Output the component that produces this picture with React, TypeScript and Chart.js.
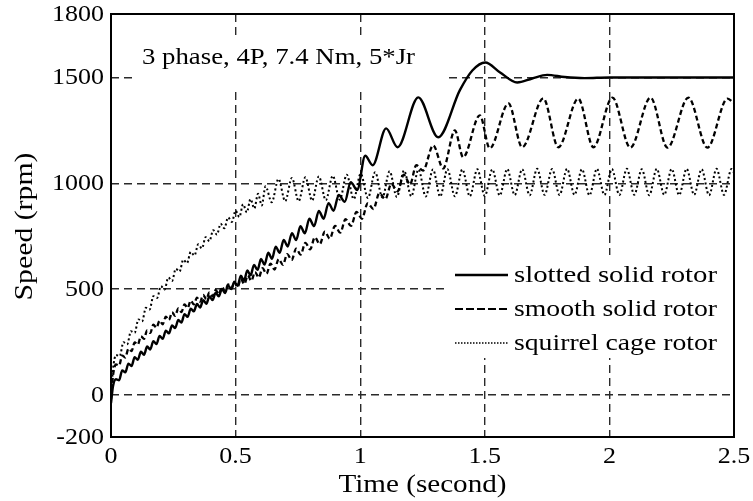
import React, { useEffect, useRef } from "react";
import { Chart, registerables } from "chart.js";
Chart.register(...registerables);

const seriesLabels = ["slotted solid rotor", "smooth solid rotor", "squirrel cage rotor"];
const xTicks = [0, 0.5, 1, 1.5, 2, 2.5];
const xTickLabels = ["0", "0.5", "1", "1.5", "2", "2.5"];
const yTicks = [-200, 0, 500, 1000, 1500, 1800];
const yTickLabels = ["-200", "0", "500", "1000", "1500", "1800"];
const annotationText = "3 phase, 4P, 7.4 Nm, 5*Jr";
const xTitle = "Time (second)";
const yTitle = "Speed (rpm)";

const slottedTime = [
  0, 0.008, 0.02, 0.0325, 0.045, 0.0575, 0.07, 0.0825, 0.095, 0.1075, 0.12, 0.1325, 0.145, 0.1575,
  0.17, 0.1825, 0.195, 0.2075, 0.22, 0.2325, 0.245, 0.2575, 0.27, 0.2825, 0.295, 0.3075, 0.32,
  0.3325, 0.345, 0.3575, 0.37, 0.3825, 0.395, 0.4075, 0.42, 0.4325, 0.445, 0.4575, 0.47, 0.4825,
  0.495, 0.508, 0.521, 0.534, 0.547, 0.56, 0.574, 0.588, 0.602, 0.616, 0.631, 0.646, 0.661, 0.677,
  0.693, 0.709, 0.726, 0.743, 0.76, 0.778, 0.796, 0.815, 0.834, 0.853, 0.873, 0.893, 0.914, 0.938,
  0.962, 0.988, 1.02, 1.05, 1.104, 1.15, 1.233, 1.313, 1.4, 1.45, 1.502, 1.56, 1.63, 1.69, 1.75,
  1.82, 1.9, 2.0, 2.1, 2.2, 2.3, 2.4, 2.5,
];
const slottedSpeed = [
  -40, 40, 73, 68, 115, 106, 147, 136, 177, 165, 203, 189, 228, 214, 253, 239, 278, 264, 303, 290,
  328, 315, 353, 341, 381, 368, 407, 394, 429, 412, 447, 430, 465, 447, 482, 465, 500, 481, 517,
  499, 534, 515, 563, 539, 588, 564, 614, 590, 642, 615, 671, 643, 700, 671, 732, 701, 764, 731,
  797, 763, 832, 797, 869, 832, 906, 870, 945, 912, 1005, 968, 1130, 1085, 1259, 1170, 1406, 1217,
  1440, 1533, 1571, 1525, 1476, 1495, 1512, 1502, 1497, 1500, 1500, 1500, 1500, 1500, 1500,
];

const smoothTime = [
  0, 0.008, 0.02, 0.0325, 0.045, 0.0575, 0.07, 0.0825, 0.095, 0.1075, 0.12, 0.1325, 0.145, 0.1575,
  0.17, 0.1825, 0.195, 0.2075, 0.22, 0.2325, 0.245, 0.2575, 0.27, 0.2825, 0.295, 0.3075, 0.32,
  0.3325, 0.345, 0.3575, 0.37, 0.3825, 0.395, 0.4075, 0.42, 0.4325, 0.445, 0.4575, 0.47, 0.4825,
  0.495, 0.508, 0.521, 0.535, 0.549, 0.563, 0.578, 0.593, 0.608, 0.624, 0.64, 0.656, 0.673, 0.69,
  0.707, 0.725, 0.743, 0.761, 0.78, 0.799, 0.818, 0.838, 0.858, 0.878, 0.899, 0.92, 0.941, 0.963,
  0.985, 1.007, 1.03, 1.053, 1.077, 1.101, 1.125, 1.15, 1.175, 1.2, 1.225, 1.252, 1.293, 1.333,
  1.38, 1.413, 1.48, 1.52, 1.595, 1.65, 1.735, 1.795, 1.875, 1.936, 2.012, 2.084, 2.165, 2.233,
  2.317, 2.393, 2.474, 2.5,
];
const smoothSpeed = [
  -20, 90, 143, 138, 185, 176, 217, 206, 247, 237, 276, 264, 304, 292, 331, 317, 350, 333, 369,
  353, 389, 373, 408, 391, 427, 410, 445, 427, 459, 440, 472, 452, 484, 465, 495, 475, 510, 489,
  522, 501, 531, 508, 548, 523, 564, 538, 580, 554, 598, 572, 620, 592, 641, 614, 665, 637, 691,
  662, 718, 687, 744, 712, 771, 738, 798, 766, 830, 798, 864, 832, 905, 878, 953, 925, 997, 962,
  1040, 995, 1085, 1060, 1179, 1070, 1250, 1123, 1321, 1165, 1377, 1170, 1401, 1170, 1400, 1170,
  1405, 1168, 1405, 1168, 1405, 1168, 1400, 1378,
];

const cageTime = [
  0, 0.008, 0.02, 0.035, 0.05, 0.065, 0.08, 0.095, 0.11, 0.125, 0.14, 0.155, 0.17, 0.185, 0.2, 0.215,
  0.23, 0.245, 0.26, 0.275, 0.29, 0.305, 0.32, 0.335, 0.35, 0.365, 0.38, 0.395, 0.41, 0.425, 0.44,
  0.455, 0.47, 0.485, 0.5, 0.515, 0.53, 0.545, 0.56, 0.575, 0.59, 0.605, 0.62, 0.645, 0.672, 0.699,
  0.726, 0.753, 0.78, 0.807, 0.834, 0.862, 0.89, 0.918, 0.946, 0.974, 1.002, 1.031, 1.06, 1.089,
  1.118, 1.147, 1.176, 1.205, 1.234, 1.263, 1.292, 1.321, 1.35, 1.38, 1.41, 1.44, 1.47, 1.5, 1.53,
  1.56, 1.59, 1.62, 1.65, 1.68, 1.71, 1.74, 1.77, 1.8, 1.83, 1.86, 1.89, 1.92, 1.95, 1.98, 2.01,
  2.04, 2.07, 2.1, 2.13, 2.16, 2.19, 2.22, 2.25, 2.28, 2.31, 2.34, 2.37, 2.4, 2.43, 2.46, 2.49, 2.5,
];
const cageSpeed = [
  0, 120, 188, 182, 248, 238, 300, 293, 356, 347, 411, 403, 466, 457, 513, 497, 554, 538, 595, 582,
  638, 622, 675, 658, 711, 692, 745, 726, 778, 757, 808, 787, 838, 817, 870, 840, 900, 862, 925,
  880, 950, 895, 985, 910, 1020, 915, 1025, 915, 1028, 918, 1032, 920, 1035, 922, 1040, 925, 1045,
  930, 1052, 932, 1056, 935, 1060, 938, 1065, 937, 1065, 937, 1066, 938, 1065, 938, 1066, 940,
  1065, 942, 1067, 944, 1066, 943, 1068, 945, 1067, 944, 1068, 945, 1066, 943, 1068, 945, 1067,
  944, 1068, 945, 1066, 943, 1068, 945, 1067, 944, 1068, 945, 1066, 943, 1068, 945, 1067, 1050,
];

const FONT = '"Liberation Serif", "Times New Roman", Times, serif';

function drawText(
  ctx: CanvasRenderingContext2D,
  text: string,
  x: number,
  y: number,
  size: number,
  align: CanvasTextAlign,
  sx: number,
  fitWidth?: number,
  rotate?: boolean
) {
  ctx.save();
  ctx.font = `${size}px ${FONT}`;
  ctx.fillStyle = "#000";
  const w = ctx.measureText(text).width;
  const s = fitWidth ? fitWidth / w : sx;
  ctx.translate(x, y);
  if (rotate) ctx.rotate(-Math.PI / 2);
  ctx.scale(s, 1);
  ctx.textAlign = align;
  ctx.textBaseline = "middle";
  ctx.fillText(text, 0, 0);
  ctx.restore();
}

const decor = {
  id: "decor",
  beforeDatasetsDraw(chart: any) {
    const { ctx, chartArea: a } = chart;
    ctx.save();
    ctx.fillStyle = "#fff";
    ctx.fillRect(a.left + 22, 35, 445 - (a.left + 22), 53);
    ctx.fillRect(447, 255, a.right - 447, 103);
    ctx.restore();
  },
  afterDatasetsDraw(chart: any) {
    const { ctx, chartArea: a } = chart;
    ctx.save();
    ctx.strokeStyle = "#000";
    ctx.lineWidth = 2;
    ctx.setLineDash([]);
    ctx.strokeRect(a.left, a.top, a.right - a.left, a.bottom - a.top);
    ctx.restore();
  },
  afterDraw(chart: any) {
    const { ctx, chartArea: a, scales } = chart;
    const xs = scales.x;
    const ys = scales.y;
    yTicks.forEach((v, i) => drawText(ctx, yTickLabels[i], a.left - 7, ys.getPixelForValue(v) + 1, 23, "right", 1.13));
    xTicks.forEach((v, i) => drawText(ctx, xTickLabels[i], xs.getPixelForValue(v), a.bottom + 20, 23, "center", 1.13));
    drawText(ctx, xTitle, (a.left + a.right) / 2, a.bottom + 48, 25, "center", 1, 168);
    drawText(ctx, yTitle, 25, (a.top + a.bottom) / 2 + 1, 25, "center", 1, 148, true);
    drawText(ctx, annotationText, a.left + 31, 58, 23, "left", 1, 273);
    const rows = [276, 310, 344];
    const dashes = [[], [8, 3], [1.5, 1.5]];
    const widths = [2.4, 2, 1.5];
    rows.forEach((ry, i) => {
      ctx.save();
      ctx.strokeStyle = "#000";
      ctx.lineWidth = widths[i];
      ctx.setLineDash(dashes[i]);
      ctx.beginPath();
      ctx.moveTo(455, ry - 1);
      ctx.lineTo(508, ry - 1);
      ctx.stroke();
      ctx.restore();
      drawText(ctx, seriesLabels[i], 514, ry, 24, "left", 1, 203);
    });
  },
};

function toPoints(t: number[], v: number[]) {
  return t.map((x, i) => ({ x, y: v[i] }));
}

export default function App() {
  const ref = useRef<HTMLCanvasElement | null>(null);
  useEffect(() => {
    let chart: Chart | null = null;
    let cancelled = false;
    const build = () => {
      if (cancelled || !ref.current) return;
      const gridColor = (c: any) =>
        c.tick && (c.tick.value === c.scale.min || c.tick.value === c.scale.max) ? "rgba(0,0,0,0)" : "#2a2a2a";
      chart = new Chart(ref.current, {
        type: "line",
        data: {
          datasets: [
            {
              label: seriesLabels[0],
              data: toPoints(slottedTime, slottedSpeed),
              borderColor: "#000",
              borderWidth: 2.4,
              pointRadius: 0,
              fill: false,
              cubicInterpolationMode: "monotone",
            },
            {
              label: seriesLabels[1],
              data: toPoints(smoothTime, smoothSpeed),
              borderColor: "#000",
              borderWidth: 2.3,
              borderDash: [5, 3],
              pointRadius: 0,
              fill: false,
              cubicInterpolationMode: "monotone",
            },
            {
              label: seriesLabels[2],
              data: toPoints(cageTime, cageSpeed),
              borderColor: "#000",
              borderWidth: 2,
              borderDash: [2, 2.5],
              pointRadius: 0,
              fill: false,
              cubicInterpolationMode: "monotone",
            },
          ],
        },
        options: {
          animation: false,
          responsive: false,
          devicePixelRatio: 1,
          layout: { padding: { left: 0, right: 19, top: 14, bottom: 0 } },
          plugins: { legend: { display: false }, tooltip: { enabled: false } },
          scales: {
            x: {
              type: "linear",
              min: 0,
              max: 2.5,
              afterBuildTicks: (s: any) => {
                s.ticks = xTicks.map((value) => ({ value }));
              },
              afterFit: (s: any) => {
                s.height = 64;
              },
              ticks: { display: false },
              grid: { color: gridColor, lineWidth: 1.4, drawTicks: false },
              border: { display: false, dash: [8, 5] },
            },
            y: {
              type: "linear",
              min: -200,
              max: 1800,
              afterBuildTicks: (s: any) => {
                s.ticks = yTicks.map((value) => ({ value }));
              },
              afterFit: (s: any) => {
                s.width = 111;
              },
              ticks: { display: false },
              grid: { color: gridColor, lineWidth: 1.4, drawTicks: false },
              border: { display: false, dash: [8, 5] },
            },
          },
        } as any,
        plugins: [decor],
      });
    };
    const fonts: any = (document as any).fonts;
    if (fonts && fonts.load) {
      Promise.all([
        fonts.load('23px "Liberation Serif"'),
        fonts.load('23px "Liberation Serif"', "0123456789 abc"),
      ])
        .catch(() => null)
        .then(() => build());
    } else {
      build();
    }
    return () => {
      cancelled = true;
      if (chart) chart.destroy();
    };
  }, []);
  return (
    <div style={{ position: "fixed", left: 0, top: 0, width: 753, height: 501, background: "#fff" }}>
      <span
        style={{ position: "absolute", left: 0, top: 0, opacity: 0, fontFamily: '"Liberation Serif"', fontSize: 23, pointerEvents: "none" }}
      >
        0123456789 Speed
      </span>
      <canvas ref={ref} width={753} height={501} style={{ width: 753, height: 501, display: "block", position: "relative" }} />
    </div>
  );
}
